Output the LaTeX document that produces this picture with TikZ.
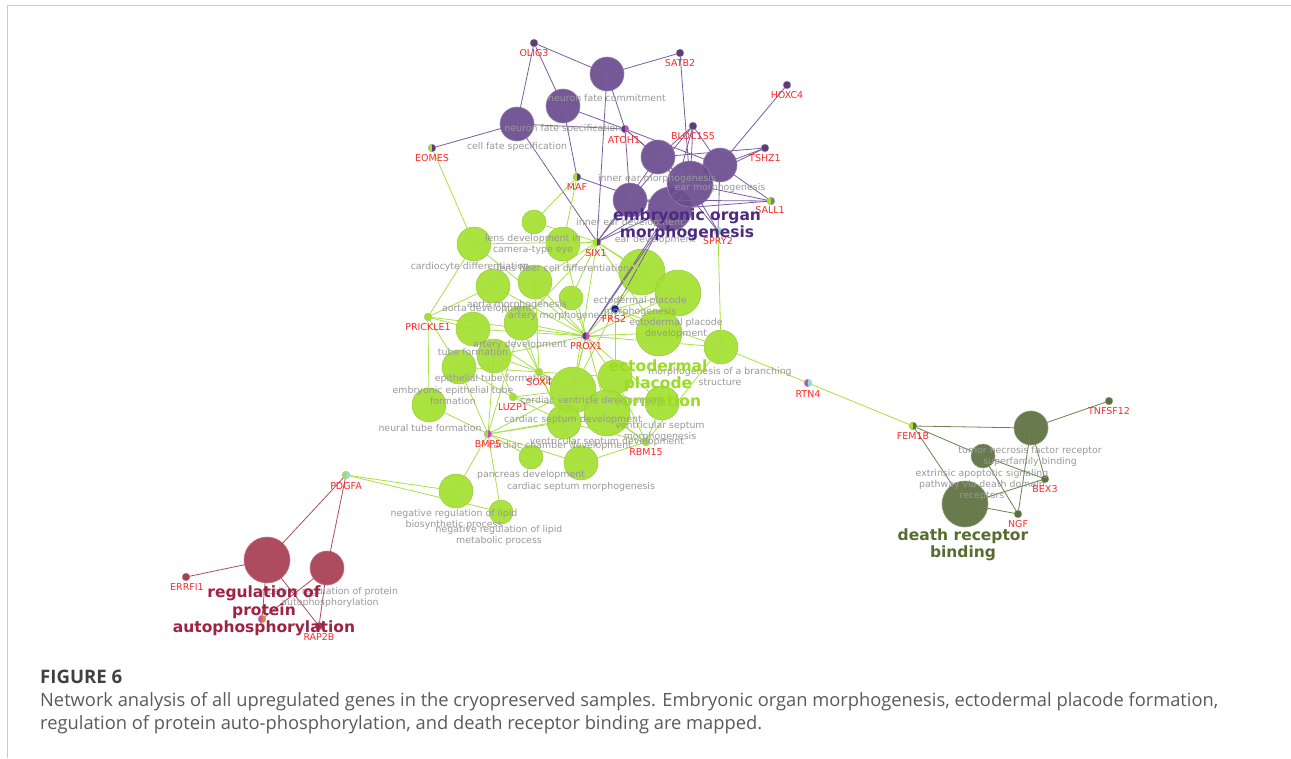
\documentclass[tikz,border=0pt]{standalone}
\usepackage{fontspec}
\setmainfont{DejaVu Sans}
\newfontfamily\capfont{Open Sans}
\usetikzlibrary{calc}
\definecolor{pur}{HTML}{6B4C8E}
\definecolor{purE}{HTML}{7A5C9E}
\definecolor{purD}{HTML}{5A3D7A}
\definecolor{purL}{HTML}{4E2A84}
\definecolor{grn}{HTML}{A4E030}
\definecolor{grnE}{HTML}{A8E040}
\definecolor{grnL}{HTML}{9ADB24}
\definecolor{red1}{HTML}{A63E52}
\definecolor{redE}{HTML}{B24A60}
\definecolor{redL}{HTML}{9E2242}
\definecolor{olv}{HTML}{5E7040}
\definecolor{olvE}{HTML}{6E7E50}
\definecolor{olvL}{HTML}{586C30}
\definecolor{gene}{HTML}{FF2626}
\definecolor{term}{HTML}{989898}
\definecolor{mag}{HTML}{C84CC8}
\definecolor{cyn}{HTML}{90E0D0}
\definecolor{blu}{HTML}{22228A}
\definecolor{org}{HTML}{E08040}
\definecolor{frame}{HTML}{CCCCCC}
\definecolor{capc}{HTML}{5A5A5A}
\pgfdeclarelayer{edges}
\pgfdeclarelayer{top}
\pgfsetlayers{main,edges,top}
\tikzset{
  tp/.style={circle, inner sep=0pt, minimum size=#1, fill opacity=0.93},
  pt/.style={tp=#1, fill=pur, draw=pur!70!white, line width=0.6pt},
  gt/.style={tp=#1, fill=grn, draw=grn!75!gray, line width=0.5pt},
  rt/.style={tp=#1, fill=red1, draw=red1!70!white, line width=0.6pt},
  ot/.style={tp=#1, fill=olv, draw=olv!70!white, line width=0.6pt},
  gd/.style={circle, inner sep=0pt, minimum size=8pt, fill=#1, draw=gray!50, line width=0.3pt},
  half/.style={path picture={\fill[#1] (path picture bounding box.south west) rectangle (path picture bounding box.north);}},
  gl/.style={text=gene, font=\fontsize{9.5}{10}\selectfont, inner sep=0pt},
  tl/.style={text=term, font=\fontsize{9.4}{11}\selectfont, align=center, inner sep=0pt},
  bl/.style={font=\fontsize{15.5}{17.5}\selectfont\bfseries, align=center, inner sep=0pt},
  pe/.style={draw=purE, line width=0.8pt},
  ge/.style={draw=grnE, line width=0.8pt},
  re/.style={draw=redE, line width=0.8pt},
  oe/.style={draw=olvE, line width=0.8pt},
}
\begin{document}
\begin{tikzpicture}[x=1pt,y=-1pt]
\useasboundingbox (0,0) rectangle (1291,758);
\draw[frame, line width=1pt] (7,758) -- (7,5) -- (1291,5);

% ---- purple terms
\node[pt=34pt] (P1) at (607,74) {};
\node[pt=34pt] (P2) at (563,106) {};
\node[pt=34pt] (P3) at (517,124) {};
\node[pt=34pt] (P4) at (658,157) {};
\node[pt=34pt] (P5) at (720,165) {};
\node[pt=34pt] (P7) at (630,200) {};
\node[pt=44pt] (P8) at (670,209) {};
\node[pt=46pt] (P6) at (690,184) {};
% ---- green terms
\node[gt=24pt] (g1) at (534,222) {};
\node[gt=34pt] (g2) at (474,244) {};
\node[gt=34pt] (g3) at (563,244) {};
\node[gt=34pt] (g4) at (493,286) {};
\node[gt=34pt] (g5) at (535,282) {};
\node[gt=46pt] (g6) at (642,272) {};
\node[gt=46pt] (g7) at (678,293) {};
\node[gt=24pt] (g8) at (571,298) {};
\node[gt=34pt] (g9) at (473,329) {};
\node[gt=34pt] (g10) at (521,323) {};
\node[gt=46pt] (g11) at (659,333) {};
\node[gt=34pt] (g12) at (721,347) {};
\node[gt=34pt] (g13) at (459,367) {};
\node[gt=34pt] (g14) at (494,356) {};
\node[gt=46pt] (g15) at (573,390) {};
\node[gt=34pt] (g16) at (615,377) {};
\node[gt=46pt] (g17) at (607,413) {};
\node[gt=34pt] (g18) at (662,403) {};
\node[gt=34pt] (g19) at (429,405) {};
\node[gt=34pt] (g20) at (564,422) {};
\node[gt=24pt] (g21) at (531,457) {};
\node[gt=34pt] (g22) at (581,463) {};
\node[gt=34pt] (g23) at (456,491) {};
\node[gt=24pt] (g24) at (501,512) {};
% ---- red terms
\node[rt=46pt] (R1) at (267,560) {};
\node[rt=34pt] (R2) at (327,568) {};
% ---- olive terms
\node[ot=34pt] (O1) at (1031,428) {};
\node[ot=24pt] (O2) at (983,456) {};
\node[ot=46pt] (O3) at (965,504) {};

% ---- gene dots
\begin{pgfonlayer}{top}
\node[gd=purD] (OLIG3) at (534,43) {};
\node[gd=purD] (SATB2) at (680,53) {};
\node[gd=purD] (HOXC4) at (787,85) {};
\node[gd=mag, half=purD] (ATOH1) at (625,129) {};
\node[gd=purD] (BLOC1S5) at (693,126) {};
\node[gd=purD] (TSHZ1) at (765,148) {};
\node[gd=purD, half=grn] (EOMES) at (432,148) {};
\node[gd=purD, half=grn] (MAF) at (577,177) {};
\node[gd=gray, half=grn] (SALL1) at (771,201) {};
\node[gd=cyn, half=grn] (SPRY2) at (718,231) {};
\node[gd=purD, half=grn] (SIX1) at (597,242) {};
\node[gd=blu] (FRS2) at (615,309) {};
\node[gd=grn] (PRICKLE1) at (428,317) {};
\node[gd=mag, half=purD] (PROX1) at (586,336) {};
\node[gd=grn] (SOX4) at (539,372) {};
\node[gd=grn] (LUZP1) at (513,397) {};
\node[gd=mag, half=grn] (BMP5) at (488,434) {};
\node[gd=grn] (RBM15) at (646,442) {};
\node[gd=cyn, half=grn] (PDGFA) at (346,475) {};
\node[gd=red1] (ERRFI1) at (186,577) {};
\node[gd=red1] (RAP2B) at (319,626) {};
\node[gd=org, half=mag] (Xg) at (262,619) {};
\node[gd=cyn, half=mag] (RTN4) at (808,383) {};
\node[gd=olv, half=grn] (FEM1B) at (913,426) {};
\node[gd=olv] (TNFSF12) at (1109,401) {};
\node[gd=olv] (BEX3) at (1045,479) {};
\node[gd=olv] (NGF) at (1018,514) {};
\end{pgfonlayer}

% ---- edges
\begin{pgfonlayer}{edges}
\foreach \a/\b in {OLIG3/P1,OLIG3/P2,OLIG3/P3,SATB2/P1,SATB2/P6,P1/SIX1,P1/ATOH1,P2/ATOH1,P2/MAF,P3/EOMES,P3/ATOH1,P3/SIX1,
  ATOH1/P4,ATOH1/P7,ATOH1/P5,ATOH1/P6,BLOC1S5/P4,BLOC1S5/P5,BLOC1S5/P6,BLOC1S5/P8,BLOC1S5/P7,HOXC4/P5,
  TSHZ1/P5,TSHZ1/P6,TSHZ1/P4,SALL1/P5,SALL1/P6,SALL1/P7,SALL1/P8,SPRY2/P5,SPRY2/P6,SPRY2/P4,
  SIX1/P4,SIX1/P7,SIX1/P8,SIX1/P6,MAF/P8,PROX1/P6,PROX1/P8,FRS2/P8}
  \draw[pe] (\a.center) -- (\b.center);
\foreach \a/\b in {EOMES/g2,MAF/g1,MAF/g3,SIX1/g1,SIX1/g3,SIX1/g2,SIX1/g5,SIX1/g6,SIX1/g7,SIX1/g10,SIX1/g11,SIX1/g8,SIX1/g15,
  PRICKLE1/g2,PRICKLE1/g4,PRICKLE1/g9,PRICKLE1/g13,PRICKLE1/g19,PRICKLE1/PROX1,
  PROX1/g2,PROX1/g3,PROX1/g4,PROX1/g5,PROX1/g6,PROX1/g7,PROX1/g8,PROX1/g9,PROX1/g10,PROX1/g11,PROX1/g12,PROX1/g14,PROX1/g15,PROX1/g16,PROX1/g17,PROX1/g18,PROX1/g20,
  SOX4/g4,SOX4/g5,SOX4/g9,SOX4/g10,SOX4/g13,SOX4/g14,SOX4/g15,SOX4/g16,SOX4/g17,SOX4/g20,SOX4/g22,
  LUZP1/g13,LUZP1/g14,LUZP1/g15,LUZP1/g17,LUZP1/g20,
  BMP5/g10,BMP5/g13,BMP5/g14,BMP5/g15,BMP5/g17,BMP5/g19,BMP5/g20,BMP5/g21,BMP5/g22,BMP5/g23,BMP5/g24,
  RBM15/g12,RBM15/g15,RBM15/g16,RBM15/g17,RBM15/g18,RBM15/g20,RBM15/g22,
  FRS2/g6,FRS2/g7,FRS2/g11,FRS2/g12,FRS2/g15,FRS2/g16,SPRY2/g12,g12/RTN4,RTN4/FEM1B,PDGFA/g23,PDGFA/g24}
  \draw[ge] (\a.center) -- (\b.center);
\foreach \a/\b in {PDGFA/R1,PDGFA/R2,ERRFI1/R1,R1/RAP2B,R1/Xg,R2/Xg,R2/RAP2B}
  \draw[re] (\a.center) -- (\b.center);
\foreach \a/\b in {FEM1B/O1,FEM1B/O2,FEM1B/O3,O1/TNFSF12,O1/BEX3,O1/NGF,O2/BEX3,O2/NGF,O3/BEX3,O3/NGF}
  \draw[oe] (\a.center) -- (\b.center);
\end{pgfonlayer}

% ---- labels
\begin{pgfonlayer}{top}
\node[tl] (tP1) at (607,98) {neuron fate commitment};
\node[tl] (tP2) at (563,129) {neuron fate specification};
\node[tl] (tP3) at (517,147) {cell fate specification};
\node[tl] (tP4) at (657,179) {inner ear morphogenesis};
\node[tl] (tP6) at (720,188) {ear morphogenesis};
\node[tl] (tP7) at (630,223) {inner ear development};
\node[tl] (tP8) at (655,240) {ear development};
\node[tl] (tg3) at (533,244) {lens development in\\camera-type eye};
\node[tl] (tg2) at (470,267) {cardiocyte differentiation};
\node[tl] (tg5) at (563,268) {lens fiber cell differentiation};
\node[tl] (tg8) at (517,305) {aorta morphogenesis};
\node[tl] (tg4) at (487,309) {aorta development};
\node[tl] (tg10) at (560,316) {artery morphogenesis};
\node[tl] (tg6) at (640,306) {ectodermal placode\\morphogenesis};
\node[tl] (tg11) at (676,328) {ectodermal placode\\development};
\node[tl] (tg14) at (520,345) {artery development};
\node[tl] (tg9) at (473,352) {tube formation};
\node[tl] (tg13) at (493,379) {epithelial tube formation};
\node[tl] (tg19) at (453,395) {embryonic epithelial tube\\formation};
\node[tl] (tg15) at (592,401) {cardiac ventricle development};
\node[tl] (tg12) at (720,376) {morphogenesis of a branching\\structure};
\node[tl] (tg20) at (573,420) {cardiac septum development};
\node[tl] (tg19b) at (430,428) {neural tube formation};
\node[tl] (tg18) at (660,431) {ventricular septum\\morphogenesis};
\node[tl] (tg17) at (607,442) {ventricular septum development};
\node[tl] (tg16) at (560,446) {cardiac chamber development};
\node[tl] (tg21) at (531,475) {pancreas development};
\node[tl] (tg22) at (581,487) {cardiac septum morphogenesis};
\node[tl] (tg23) at (454,519) {negative regulation of lipid\\biosynthetic process};
\node[tl] (tg24) at (499,535) {negative regulation of lipid\\metabolic process};
\node[tl] (tR2) at (330,597) {positive regulation of protein\\autophosphorylation};
\node[tl] (tO1) at (1030,456) {tumor necrosis factor receptor\\superfamily binding};
\node[tl] (tO3) at (982,485) {extrinsic apoptotic signaling\\pathway via death domain\\receptors};

\foreach \g/\x/\y in {OLIG3/534/53,SATB2/680/63,HOXC4/787/95,ATOH1/624/140,BLOC1S5/693/136,TSHZ1/765/158,EOMES/432/158,
  MAF/577/187,SALL1/770/210,SPRY2/718/241,SIX1/596/253,FRS2/614/319,PRICKLE1/428/327,PROX1/586/346,SOX4/539/382,
  LUZP1/513/407,BMP5/488/444,RBM15/646/452,PDGFA/346/486,ERRFI1/187/587,RAP2B/319/637,RTN4/808/394,FEM1B/913/436,
  TNFSF12/1109/411,BEX3/1045/489,NGF/1018/524}
  \node[gl] (l\g) at (\x,\y) {\g};

\node[bl, text=purL] (bigP) at (687,225) {embryonic organ\\morphogenesis};
\node[bl, text=grnL] (bigG) at (658,383) {ectodermal\\placode\\formation};
\node[bl, text=redL] (bigR) at (264,611) {regulation of\\protein\\autophosphorylation};
\node[bl, text=olvL] (bigO) at (963,545) {death receptor\\binding};
\end{pgfonlayer}

% ---- caption
\node[anchor=west, inner sep=0pt, text=black!75] (fig) at (40,677) {\resizebox{82pt}{!}{\capfont\bfseries FIGURE 6}};
\node[anchor=west, inner sep=0pt, text=capc] (cap1) at (40,702) {\resizebox{1178pt}{!}{\capfont\fontsize{16}{18}\selectfont Network analysis of all upregulated genes in the cryopreserved samples. Embryonic organ morphogenesis, ectodermal placode formation,}};
\node[anchor=west, inner sep=0pt, text=capc] (cap2) at (40,725) {\resizebox{722pt}{!}{\capfont\fontsize{16}{18}\selectfont regulation of protein auto-phosphorylation, and death receptor binding are mapped.}};
\end{tikzpicture}
\end{document}
